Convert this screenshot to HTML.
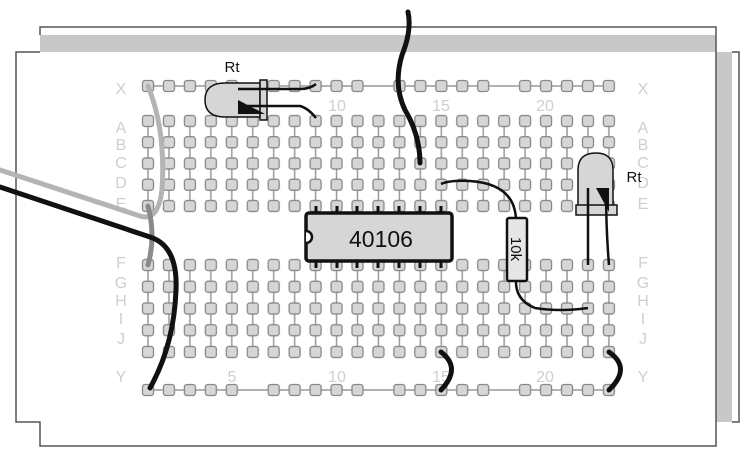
<!DOCTYPE html>
<html><head><meta charset="utf-8"><style>
html,body{margin:0;padding:0;background:#fff;}
svg{display:block;font-family:"Liberation Sans",sans-serif;}
</style></head><body>
<svg width="755" height="460" viewBox="0 0 755 460" xmlns="http://www.w3.org/2000/svg">
<defs>
<pattern id="vl" patternUnits="userSpaceOnUse" x="137.525" y="0" width="20.95" height="10">
<line x1="10.475" y1="0" x2="10.475" y2="10" stroke="#999" stroke-width="1.5"/>
</pattern>
<pattern id="dt" patternUnits="userSpaceOnUse" x="137.525" y="110.375" width="20.95" height="21.25">
<rect x="4.975" y="5.125" width="11" height="11" rx="2.5" fill="#d6d6d6" stroke="#888" stroke-width="1.3"/>
</pattern>
<pattern id="db" patternUnits="userSpaceOnUse" x="137.525" y="254.125" width="20.95" height="21.75">
<rect x="4.975" y="5.375" width="11" height="11" rx="2.5" fill="#d6d6d6" stroke="#888" stroke-width="1.3"/>
</pattern>
<pattern id="rl" patternUnits="userSpaceOnUse" x="137.525" y="0" width="125.7" height="460">
<rect x="4.975" y="80.5" width="11" height="11" rx="2.5" fill="#d6d6d6" stroke="#888" stroke-width="1.3"/>
<rect x="25.925" y="80.5" width="11" height="11" rx="2.5" fill="#d6d6d6" stroke="#888" stroke-width="1.3"/>
<rect x="46.875" y="80.5" width="11" height="11" rx="2.5" fill="#d6d6d6" stroke="#888" stroke-width="1.3"/>
<rect x="67.825" y="80.5" width="11" height="11" rx="2.5" fill="#d6d6d6" stroke="#888" stroke-width="1.3"/>
<rect x="88.775" y="80.5" width="11" height="11" rx="2.5" fill="#d6d6d6" stroke="#888" stroke-width="1.3"/>
<rect x="4.975" y="384.5" width="11" height="11" rx="2.5" fill="#d6d6d6" stroke="#888" stroke-width="1.3"/>
<rect x="25.925" y="384.5" width="11" height="11" rx="2.5" fill="#d6d6d6" stroke="#888" stroke-width="1.3"/>
<rect x="46.875" y="384.5" width="11" height="11" rx="2.5" fill="#d6d6d6" stroke="#888" stroke-width="1.3"/>
<rect x="67.825" y="384.5" width="11" height="11" rx="2.5" fill="#d6d6d6" stroke="#888" stroke-width="1.3"/>
<rect x="88.775" y="384.5" width="11" height="11" rx="2.5" fill="#d6d6d6" stroke="#888" stroke-width="1.3"/>
</pattern>
</defs>
<!-- frame -->
<rect x="40" y="35" width="676" height="17" fill="#c8c8c8"/>
<polyline points="40,35 40,27 716,27 716,52" fill="none" stroke="#555" stroke-width="1.5"/>
<rect x="716" y="52" width="16" height="370" fill="#c8c8c8"/>
<polyline points="732,52 739,52 739,422 732,422" fill="none" stroke="#555" stroke-width="1.5"/>
<polyline points="40,52 16,52 16,422 40,422 40,446 716,446 716,52" fill="none" stroke="#555" stroke-width="1.5"/>

<!-- grid -->
<line x1="148" y1="86" x2="609" y2="86" stroke="#999" stroke-width="1.5"/>
<line x1="148" y1="390" x2="609" y2="390" stroke="#999" stroke-width="1.5"/>
<rect x="137.525" y="115" width="481.85" height="91" fill="url(#vl)"/>
<rect x="137.525" y="265" width="481.85" height="93" fill="url(#vl)"/>
<rect x="137.525" y="110.375" width="481.85" height="106.25" fill="url(#dt)"/>
<rect x="137.525" y="254.125" width="481.85" height="108.75" fill="url(#db)"/>
<rect x="137.525" y="78" width="481.85" height="320" fill="url(#rl)"/>

<!-- labels -->
<g fill="#cfcfcf" font-size="16" text-anchor="middle">
<text x="121" y="94">X</text><text x="643" y="94">X</text>
<text x="121" y="133">A</text><text x="643" y="133">A</text>
<text x="121" y="150">B</text><text x="643" y="150">B</text>
<text x="121" y="168">C</text><text x="643" y="168">C</text>
<text x="121" y="188">D</text><text x="643" y="188">D</text>
<text x="121" y="209">E</text><text x="643" y="209">E</text>
<text x="121" y="268">F</text><text x="643" y="268">F</text>
<text x="121" y="288">G</text><text x="643" y="288">G</text>
<text x="121" y="306">H</text><text x="643" y="306">H</text>
<text x="121" y="324">I</text><text x="643" y="324">I</text>
<text x="121" y="344">J</text><text x="643" y="344">J</text>
<text x="121" y="382">Y</text><text x="643" y="382">Y</text>
<text x="337" y="111">10</text><text x="441" y="111">15</text><text x="545" y="111">20</text>
<text x="232" y="382">5</text><text x="337" y="382">10</text><text x="441" y="382">15</text><text x="545" y="382">20</text>
</g>

<!-- left wires -->
<path d="M0,170 L140,216 Q158,222 162,190 Q166,130 148,86" fill="none" stroke="#b4b4b4" stroke-width="5" stroke-linecap="round"/>
<path d="M148,206 Q156,236 148,265" fill="none" stroke="#8a8a8a" stroke-width="5" stroke-linecap="round"/>
<path d="M0,187 L150,237 Q178,246 176,290 Q174,345 150,388" fill="none" stroke="#111" stroke-width="5" stroke-linecap="round"/>

<!-- top vertical wire -->
<path d="M408,12 Q412,30 402,55 Q393,85 405,110 Q420,135 420,163" fill="none" stroke="#111" stroke-width="5" stroke-linecap="round"/>

<!-- jumpers -->
<path d="M441,352 Q462,368 441,390" fill="none" stroke="#111" stroke-width="5" stroke-linecap="round"/>
<path d="M609,352 Q632,368 609,390" fill="none" stroke="#111" stroke-width="5" stroke-linecap="round"/>

<!-- top LED -->
<path d="M260,83 L225,83 Q205,83 205,100 Q205,117 225,117 L260,117 Z" fill="#d6d6d6" stroke="#111" stroke-width="1.5"/>
<rect x="260" y="80" width="7" height="40" fill="#d6d6d6" stroke="#111" stroke-width="1.5"/>
<path d="M238,89 L300,89 Q310,89 316,84" fill="none" stroke="#111" stroke-width="2.5"/>
<path d="M238,106 L300,106 Q308,108 316,118" fill="none" stroke="#111" stroke-width="2.5"/>
<polygon points="238,100 265,114 238,114" fill="#111"/>
<text x="232" y="72" font-size="15" text-anchor="middle" fill="#111">Rt</text>

<!-- IC -->
<g stroke="#111" stroke-width="3">
<line x1="316" y1="206" x2="316" y2="268"/><line x1="337" y1="206" x2="337" y2="268"/>
<line x1="357" y1="206" x2="357" y2="268"/><line x1="378" y1="206" x2="378" y2="268"/>
<line x1="399" y1="206" x2="399" y2="268"/><line x1="420" y1="206" x2="420" y2="268"/>
<line x1="441" y1="206" x2="441" y2="268"/>
</g>
<rect x="306" y="213" width="146" height="48" rx="3" fill="#d6d6d6" stroke="#111" stroke-width="3.5"/>
<path d="M306,231 A6,6 0 0 1 306,243" fill="#fff" stroke="#111" stroke-width="2.5"/>
<text x="381" y="247" font-size="23" text-anchor="middle" fill="#111">40106</text>

<!-- resistor -->
<path d="M441,184 Q450,180 470,181 Q515,184 516,220" fill="none" stroke="#111" stroke-width="2.5"/>
<path d="M516,280 Q515,300 535,308 Q560,312 588,308" fill="none" stroke="#111" stroke-width="2.5"/>
<rect x="507" y="218" width="20" height="63" rx="2" fill="#e6e6e6" stroke="#111" stroke-width="2.5"/>
<text x="0" y="0" font-size="15" text-anchor="middle" fill="#111" transform="translate(511,249) rotate(90)">10k</text>

<!-- right LED -->
<path d="M578,207 L578,170 Q578,153 596,153 Q613,153 613,170 L613,207 Z" fill="#d6d6d6" stroke="#111" stroke-width="1.5"/>
<rect x="576" y="205" width="41" height="10" fill="#d6d6d6" stroke="#111" stroke-width="1.5"/>
<polygon points="596,188 609,188 609,212" fill="#111"/>
<path d="M588,188 L588,265" fill="none" stroke="#111" stroke-width="2.5"/>
<path d="M606,188 Q606,230 609,265" fill="none" stroke="#111" stroke-width="2.5"/>
<text x="634" y="182" font-size="15" text-anchor="middle" fill="#111">Rt</text>
</svg>
</body></html>
